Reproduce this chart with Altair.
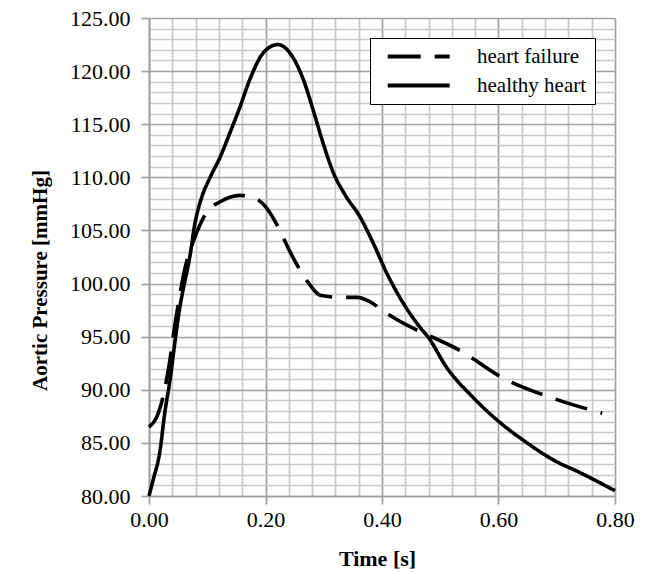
import altair as alt
import pandas as pd

# ---- data ----
healthy_t = [0.000, 0.007, 0.019, 0.027, 0.036, 0.045, 0.053, 0.060, 0.070, 0.079,
             0.091, 0.105, 0.122, 0.139, 0.156, 0.173, 0.196, 0.221, 0.247, 0.265,
             0.282, 0.299, 0.316, 0.336, 0.362, 0.385, 0.408, 0.436, 0.465, 0.480,
             0.511, 0.556, 0.603, 0.649, 0.694, 0.740, 0.800]
healthy_p = [80.0, 81.5, 84.3, 87.8, 90.9, 94.7, 97.8, 99.8, 102.5, 105.7,
             108.2, 110.0, 111.9, 114.2, 116.6, 119.2, 121.7, 122.5, 121.3, 119.2,
             116.3, 113.2, 110.5, 108.4, 106.3, 103.8, 101.0, 98.2, 95.9, 94.9,
             92.1, 89.3, 86.9, 85.0, 83.4, 82.2, 80.5]

failure_t = [0.000, 0.013, 0.024, 0.035, 0.045, 0.062, 0.079, 0.100, 0.122, 0.156,
             0.179, 0.202, 0.220, 0.242, 0.259, 0.276, 0.294, 0.328, 0.357, 0.379,
             0.405, 0.453, 0.477, 0.534, 0.608, 0.694, 0.778]
failure_p = [86.5, 87.4, 89.3, 92.5, 96.3, 101.5, 104.4, 106.8, 107.7, 108.3,
             108.1, 107.1, 105.5, 103.0, 101.3, 99.9, 98.9, 98.7, 98.7, 98.3,
             97.3, 95.8, 95.2, 93.7, 91.1, 89.2, 87.8]

series_names = ["heart failure", "healthy heart"]

# axis tick values and labels
x_tick_values = [round(i * 0.04, 2) for i in range(21)]   # 0.00 ... 0.80
y_tick_values = list(range(80, 126))                       # 80 ... 125

df = pd.concat([
    pd.DataFrame({"t": failure_t, "p": failure_p, "series": series_names[0]}),
    pd.DataFrame({"t": healthy_t, "p": healthy_p, "series": series_names[1]}),
], ignore_index=True)

FONT = "Liberation Serif"
MAJOR = "#a0a0a0"
MINOR = "#c8c8c8"

x_major_test = "abs(datum.value*5 - round(datum.value*5)) < 0.001"
y_major_test = "datum.value % 5 == 0"

x_axis = alt.Axis(
    values=x_tick_values,
    labelExpr=f"({x_major_test}) ? format(datum.value, '.2f') : ''",
    grid=True,
    gridColor={"condition": {"test": x_major_test, "value": MAJOR}, "value": MINOR},
    gridWidth=1.7,
    tickSize={"condition": {"test": x_major_test, "value": 8}, "value": 0},
    tickColor=MAJOR, tickWidth=1.7,
    domainColor=MAJOR, domainWidth=1.7,
    labelFont=FONT, labelFontSize=22, labelColor="black", labelPadding=5,
    labelFlush=False, labelOverlap=False,
    title="Time [s]", titleFont=FONT, titleFontSize=22, titleFontWeight="bold",
    titleColor="black", titleX=228, titleY=62, titleBaseline="middle",
)

y_axis = alt.Axis(
    values=y_tick_values,
    labelExpr=f"({y_major_test}) ? format(datum.value, '.2f') : ''",
    grid=True,
    gridColor={"condition": {"test": y_major_test, "value": MAJOR}, "value": MINOR},
    gridWidth=1.7,
    tickSize={"condition": {"test": y_major_test, "value": 8}, "value": 0},
    tickColor=MAJOR, tickWidth=1.7,
    domainColor=MAJOR, domainWidth=1.7,
    labelFont=FONT, labelFontSize=22, labelColor="black", labelPadding=11,
    labelFlush=False, labelOverlap=False,
    title="Aortic Pressure  [mmHg]", titleFont=FONT, titleFontSize=21,
    titleFontWeight="bold", titleColor="black",
    titleX=-109, titleY=262, titleBaseline="middle", titleAngle=270,
)

legend = alt.Legend(
    title=None, orient="none", legendX=221, legendY=20,
    symbolType="M-0.1,0H7.9", symbolSize=240, symbolStrokeWidth=3.8,
    symbolStrokeColor="black",
    labelFont=FONT, labelFontSize=21, labelColor="black", labelOffset=78,
    rowPadding=7, padding=8,
    strokeColor="black", fillColor="white",
)

chart = alt.Chart(df).mark_line(
    color="black", strokeWidth=3.6, interpolate="monotone"
).encode(
    x=alt.X("t:Q", scale=alt.Scale(domain=[0, 0.8], nice=False, zero=False), axis=x_axis),
    y=alt.Y("p:Q", scale=alt.Scale(domain=[80, 125], nice=False, zero=False), axis=y_axis),
    strokeDash=alt.StrokeDash(
        "series:N",
        scale=alt.Scale(domain=series_names, range=[[33, 14], [1, 0]]),
        legend=legend,
    ),
).properties(
    width=466, height=478,
    padding={"left": 149, "top": 18, "right": 35, "bottom": 76},
    autosize=alt.AutoSizeParams(type="none"),
    background="white",
).configure_view(stroke=None)

chart.save("out.html", embed_options={"renderer": "svg", "actions": False})
